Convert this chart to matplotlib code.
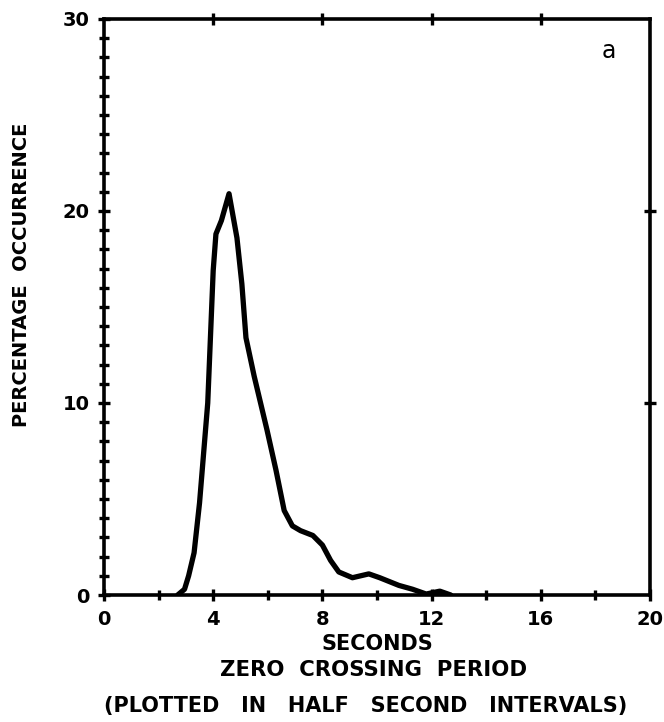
import matplotlib
matplotlib.use("Agg")
import matplotlib.pyplot as plt
from matplotlib.ticker import MultipleLocator, FixedLocator

# zero crossing period (s) and percentage occurrence
period_s = [2.7, 2.95, 3.1, 3.3, 3.5, 3.8, 4.0, 4.1, 4.3, 4.58, 4.87, 5.05,
            5.2, 5.5, 5.97, 6.3, 6.6, 6.9, 7.2, 7.65, 8.0, 8.3, 8.6, 9.1,
            9.7, 10.1, 10.8, 11.3, 11.8, 12.3, 12.7]
pct_occ = [0.0, 0.3, 1.0, 2.2, 4.8, 10.0, 16.9, 18.8, 19.5, 20.9, 18.6, 16.2,
           13.4, 11.4, 8.6, 6.5, 4.4, 3.6, 3.35, 3.1, 2.6, 1.8, 1.2, 0.9,
           1.1, 0.9, 0.5, 0.3, 0.05, 0.2, 0.0]

x_ticks = [0, 4, 8, 12, 16, 20]
y_ticks = [0, 10, 20, 30]

plt.rcParams['font.family'] = ['DejaVu Sans']

fig = plt.figure(figsize=(6.64, 7.22), dpi=100)
ax = fig.add_axes([0.1566, 0.1759, 0.979 - 0.1566, 0.9737 - 0.1759])

ax.plot(period_s, pct_occ, color='black', lw=3.8, solid_joinstyle='round',
        solid_capstyle='round')

ax.set_xlim(0, 20)
ax.set_ylim(0, 30)

for s in ax.spines.values():
    s.set_linewidth(2.6)

ax.xaxis.set_major_locator(FixedLocator(x_ticks))
ax.xaxis.set_minor_locator(MultipleLocator(2))
ax.yaxis.set_major_locator(FixedLocator(y_ticks))
ax.yaxis.set_minor_locator(MultipleLocator(1))

ax.tick_params(axis='both', which='both', direction='inout', width=2.4,
               color='black')
ax.tick_params(axis='both', which='major', length=9, labelsize=14)
ax.tick_params(axis='both', which='minor', length=6.5)
ax.tick_params(axis='x', pad=6)
ax.tick_params(axis='y', pad=6)

for lbl in ax.get_xticklabels() + ax.get_yticklabels():
    lbl.set_fontweight('bold')

# top and right frame ticks
top = ax.secondary_xaxis('top')
top.set_xticks([4, 8, 12, 16])
top.set_xticklabels([])
top.tick_params(direction='inout', length=9, width=2.4)
top.spines['top'].set_visible(False)
right = ax.secondary_yaxis('right')
right.set_yticks([10, 20])
right.set_yticklabels([])
right.tick_params(direction='inout', length=9, width=2.4)
right.spines['right'].set_visible(False)

ax.set_ylabel('PERCENTAGE  OCCURRENCE', fontsize=14, fontweight='bold')
ax.yaxis.set_label_coords(-0.134, 0.556)
ax.set_xlabel('SECONDS', fontsize=15, fontweight='bold', labelpad=4)

fig.text(0.563, 0.072, 'ZERO  CROSSING  PERIOD',
         ha='center', va='center', fontsize=15.3, fontweight='bold')
fig.text(0.551, 0.022, '(PLOTTED   IN   HALF   SECOND   INTERVALS)',
         ha='center', va='center', fontsize=15, fontweight='bold')

ax.text(0.925, 0.945, 'a', transform=ax.transAxes, ha='center', va='center',
        fontsize=17)

fig.savefig('out.png', dpi=100)
